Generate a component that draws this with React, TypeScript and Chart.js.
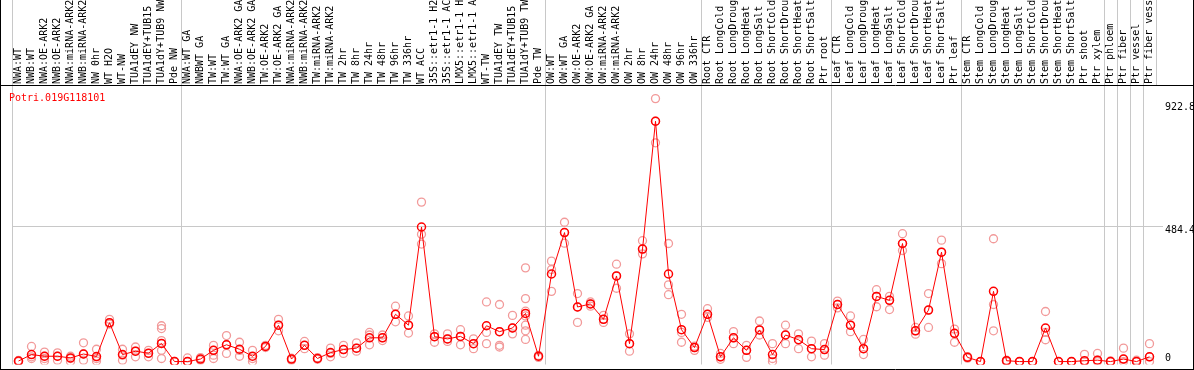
import { useEffect, useRef } from 'react';
import { Chart, registerables } from 'chart.js';

Chart.register(...registerables);

const geneId = 'Potri.019G118101';

const categories = [
  'NWA:WT', 'NWB:WT', 'NWA:OE-ARK2', 'NWB:OE-ARK2', 'NWA:miRNA-ARK2', 'NWB:miRNA-ARK2',
  'NW 0hr', 'WT H2O', 'WT-NW', 'TUA1dEY NW', 'TUA1dEY+TUB15 NW', 'TUA1dY+TUB9 NW', 'Pde NW',
  'NWA:WT GA', 'NWBWT GA', 'TW:WT', 'TW:WT GA', 'NWA:OE-ARK2 GA', 'NWB:OE-ARK2 GA',
  'TW:OE-ARK2', 'TW:OE-ARK2 GA', 'NWA:miRNA-ARK2 GA', 'NWB:miRNA-ARK2 GA', 'TW:miRNA-ARK2',
  'TW:miRNA-ARK2 GA', 'TW 2hr', 'TW 8hr', 'TW 24hr', 'TW 48hr', 'TW 96hr', 'TW 336hr',
  'WT ACC', '35S::etr1-1 H2O', '35S::etr1-1 ACC', 'LMX5::etr1-1 H2O', 'LMX5::etr1-1 ACC',
  'WT-TW', 'TUA1dEY TW', 'TUA1dEY+TUB15 TW', 'TUA1dY+TUB9 TW', 'Pde TW',
  'OW:WT', 'OW:WT GA', 'OW:OE-ARK2', 'OW:OE-ARK2 GA', 'OW:miRNA-ARK2', 'OW:miRNA-ARK2 GA',
  'OW 2hr', 'OW 8hr', 'OW 24hr', 'OW 48hr', 'OW 96hr', 'OW 336hr',
  'Root CTR', 'Root LongCold', 'Root LongDrought', 'Root LongHeat', 'Root LongSalt',
  'Root ShortCold', 'Root ShortDrought', 'Root ShortHeat', 'Root ShortSalt', 'Ptr root',
  'Leaf CTR', 'Leaf LongCold', 'Leaf LongDrought', 'Leaf LongHeat', 'Leaf LongSalt',
  'Leaf ShortCold', 'Leaf ShortDrought', 'Leaf ShortHeat', 'Leaf ShortSalt', 'Ptr leaf',
  'Stem CTR', 'Stem LongCold', 'Stem LongDrought', 'Stem LongHeat', 'Stem LongSalt',
  'Stem ShortCold', 'Stem ShortDrought', 'Stem ShortHeat', 'Stem ShortSalt', 'Ptr shoot',
  'Ptr xylem', 'Ptr phloem', 'Ptr fiber', 'Ptr vessel', 'Ptr fiber vessel',
];

const means = [
  2, 25, 19, 19, 13, 27, 18, 139, 25, 37, 30, 65, 0,
  0, 9, 40, 60, 44, 19, 54, 130, 9, 58, 11, 32, 43, 48, 85, 85, 169, 130,
  481, 89, 81, 90, 64, 128, 107, 120, 172, 19,
  313, 461, 195, 206, 151, 306, 64, 402, 859, 313, 114, 50,
  169, 17, 85, 40, 113, 25, 95, 78, 46, 43,
  204, 130, 46, 233, 219, 422, 110, 184, 391, 101,
  15, 0, 251, 3, 0, 0, 120, 0, 0, 3, 5,
  0, 9, 0, 17,
];

const replicates = [
  [4, 2, 0], [54, 17, 11], [34, 19, 11, 2], [31, 19, 5], [19, 11, 0], [67, 27, 5],
  [44, 11, 2], [151, 139, 134], [44, 23, 5], [52, 37, 17], [40, 29, 17],
  [128, 118, 75, 64, 40, 11], [1, 0, 0],
  [13, 0, 0], [14, 9, 5], [58, 40, 23, 11], [93, 61, 29], [69, 40, 19], [40, 11, 0],
  [58, 54, 50], [151, 130, 110], [12, 9, 5], [72, 58, 46], [14, 11, 8], [48, 29, 17],
  [58, 43, 29], [67, 48, 37], [104, 95, 60], [95, 85, 75], [198, 169, 142], [163, 130, 102],
  [570, 455, 420], [99, 89, 69], [99, 81, 72], [114, 90, 60], [81, 64, 46], [213, 104, 64],
  [204, 107, 58, 52], [165, 120, 99], [335, 225, 180, 163, 130, 110, 79], [22, 19, 15],
  [359, 329, 251], [498, 461, 423], [243, 195, 140], [213, 206, 198], [165, 151, 140],
  [348, 306, 262], [99, 64, 37], [432, 402, 385], [940, 859, 782], [422, 274, 239],
  [169, 104, 69], [55, 50, 40],
  [189, 169, 158], [29, 17, 8], [107, 85, 64], [58, 40, 15], [145, 113, 95], [64, 11, 0],
  [130, 95, 64], [99, 78, 46], [73, 46, 17], [64, 43, 23],
  [216, 204, 192], [163, 130, 107], [79, 46, 25], [257, 233, 196], [233, 219, 186],
  [457, 422, 397], [122, 110, 98], [243, 184, 122], [434, 391, 350], [116, 101, 69],
  [18, 15, 12], [0, 0, 0], [439, 204, 110], [5, 3, 0], [0, 0, 0], [0, 0, 0],
  [179, 104, 78], [0, 0, 0], [0, 0, 0], [26, 0, 0], [29, 5, 0],
  [2, 0, 0], [48, 9, 0], [5, 0, 0], [64, 17, 0],
];

const yTickValues = [0, 484.4, 922.8];
const groupStarts = [0, 13, 41, 53, 63, 73, 84, 85, 86, 87, 88];

const FONT = '"DejaVu Sans Mono", monospace';
const GRID = '#c8c8c8';
const CLEAR = 'rgba(0,0,0,0)';

const decorations = {
  id: 'decorations',
  afterDraw(chart: any) {
    const { ctx, chartArea, scales } = chart;
    const x = scales.x;
    const y = scales.y;
    const W = chart.width;
    const H = chart.height;
    ctx.save();
    ctx.strokeStyle = GRID;
    ctx.lineWidth = 1;
    groupStarts.forEach((b) => {
      const px = Math.round(x.getPixelForValue(b - 0.5)) + 0.5;
      ctx.beginPath();
      ctx.moveTo(px, 0);
      ctx.lineTo(px, chartArea.top);
      ctx.stroke();
    });
    ctx.strokeStyle = '#000';
    ctx.beginPath();
    ctx.moveTo(0, chartArea.top - 0.5);
    ctx.lineTo(W, chartArea.top - 0.5);
    ctx.moveTo(0.5, 0);
    ctx.lineTo(0.5, H);
    ctx.moveTo(W - 0.5, 0);
    ctx.lineTo(W - 0.5, H);
    ctx.moveTo(0, H - 0.5);
    ctx.lineTo(W, H - 0.5);
    ctx.stroke();
    ctx.font = `10px ${FONT}`;
    ctx.textBaseline = 'alphabetic';
    ctx.textAlign = 'left';
    ctx.fillStyle = '#ff0000';
    ctx.fillText(geneId, 9, chartArea.top + 15);
    ctx.fillStyle = '#000';
    yTickValues.forEach((v) => {
      const py = y.getPixelForValue(v);
      ctx.fillText(String(v), chartArea.right + 9, v === 0 ? py - 1 : py + 7);
    });
    ctx.restore();
  },
};

export default function App() {
  const ref = useRef<HTMLCanvasElement>(null);

  useEffect(() => {
    if (!ref.current) return;
    const repPoints = replicates.flatMap((vals, i) =>
      vals.map((v) => ({ x: categories[i], y: v }))
    );
    const chart = new Chart(ref.current, {
      type: 'line',
      data: {
        labels: categories,
        datasets: [
          {
            label: 'mean',
            data: means,
            borderColor: '#ff0000',
            borderWidth: 1,
            pointRadius: 4,
            pointBorderWidth: 1.5,
            pointBorderColor: '#ff0000',
            pointBackgroundColor: CLEAR,
            fill: false,
            tension: 0,
            order: 0,
          },
          {
            label: 'replicates',
            data: repPoints as any,
            showLine: false,
            pointRadius: 4,
            pointBorderWidth: 1.3,
            pointBorderColor: '#f29a9a',
            pointBackgroundColor: CLEAR,
            order: 1,
          },
        ],
      },
      options: {
        responsive: false,
        animation: false,
        layout: { padding: { left: 12, right: 0, top: 0, bottom: 1 } },
        plugins: {
          legend: { display: false },
          tooltip: { enabled: false },
          title: { display: false },
        },
        scales: {
          x: {
            type: 'category',
            position: 'top',
            offset: true,
            grid: {
              offset: true,
              drawTicks: false,
              lineWidth: 1,
              color: (c: any) => (groupStarts.includes(c.index) ? GRID : CLEAR),
            },
            border: { display: false },
            ticks: {
              autoSkip: false,
              maxRotation: 90,
              minRotation: 90,
              padding: 2,
              labelOffset: 12,
              color: '#000',
              font: { family: FONT, size: 10 },
            },
            afterFit: (s: any) => {
              s.height = 86;
            },
          },
          y: {
            type: 'linear',
            position: 'right',
            min: -10.5,
            max: 985,
            afterBuildTicks: (s: any) => {
              s.ticks = yTickValues.map((v) => ({ value: v }));
            },
            grid: {
              drawTicks: true,
              tickLength: 7,
              color: (c: any) => (c.tick && c.tick.value === 484.4 ? GRID : CLEAR),
              tickColor: (c: any) => (c.tick && c.tick.value === 484.4 ? GRID : CLEAR),
            },
            border: { display: false },
            ticks: { display: false },
            afterFit: (s: any) => {
              s.width = 38;
            },
          },
        },
      } as any,
      plugins: [decorations],
    });
    return () => chart.destroy();
  }, []);

  return (
    <div style={{ position: 'fixed', left: 0, top: 0, width: 1194, height: 370, background: '#fff' }}>
      <canvas ref={ref} width={1194} height={370} style={{ display: 'block' }} />
    </div>
  );
}
